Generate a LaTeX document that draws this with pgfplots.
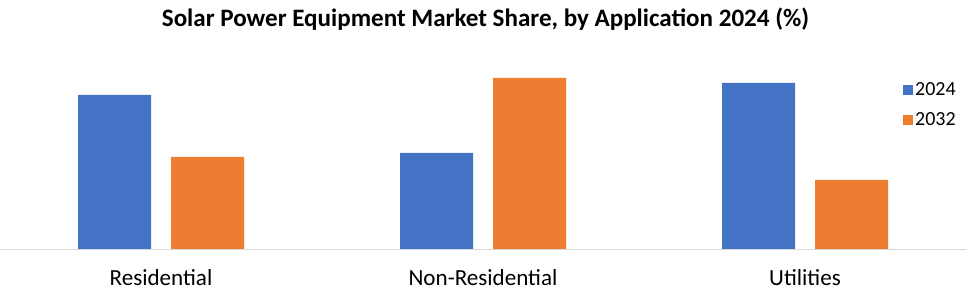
\documentclass[border=0pt]{standalone}
\usepackage{pgfplots}
\pgfplotsset{compat=1.18}
\usepackage{fontspec}
\setmainfont{Carlito}
\definecolor{cblue}{HTML}{4472C4}
\definecolor{corange}{HTML}{ED7D31}
\definecolor{cgrid}{HTML}{D9D9D9}
\begin{document}
\begin{tikzpicture}[x=0.75pt,y=0.75pt]
\useasboundingbox (0,0) rectangle (971,302);
\node[font=\bfseries\fontsize{18.8}{20}\selectfont] at (485.5,283) {Solar Power Equipment Market Share, by Application 2024 (\%)};
\begin{axis}[
  at={(0,53)}, anchor=south west,
  scale only axis, width=724.5pt, height=180pt,
  xmin=-0.5, xmax=2.5, ymin=0, ymax=240,
  ybar=15pt, bar width=54.75pt,
  axis x line=bottom, axis y line=none,
  axis line style={cgrid, -},
  xtick=data, xticklabels={Residential,Non-Residential,Utilities},
  major tick length=0,
  xticklabel style={font=\fontsize{17.3}{19}\selectfont, yshift=-11.5pt},
  legend style={draw=none, fill=none, at={(axis description cs:0.934,0.705)}, anchor=north west,
    font=\fontsize{15}{17}\selectfont, row sep=7pt, inner sep=0pt},
  legend image code/.code={\fill[#1] (0pt,-3.75pt) rectangle (7.5pt,3.75pt);},
  legend cell align=left,
]
\addplot[fill=cblue, draw=none] coordinates {(0,154) (1,96) (2,166)};
\addplot[fill=corange, draw=none] coordinates {(0,92) (1,171) (2,69)};
\legend{2024,2032}
\end{axis}
\end{tikzpicture}
\end{document}
